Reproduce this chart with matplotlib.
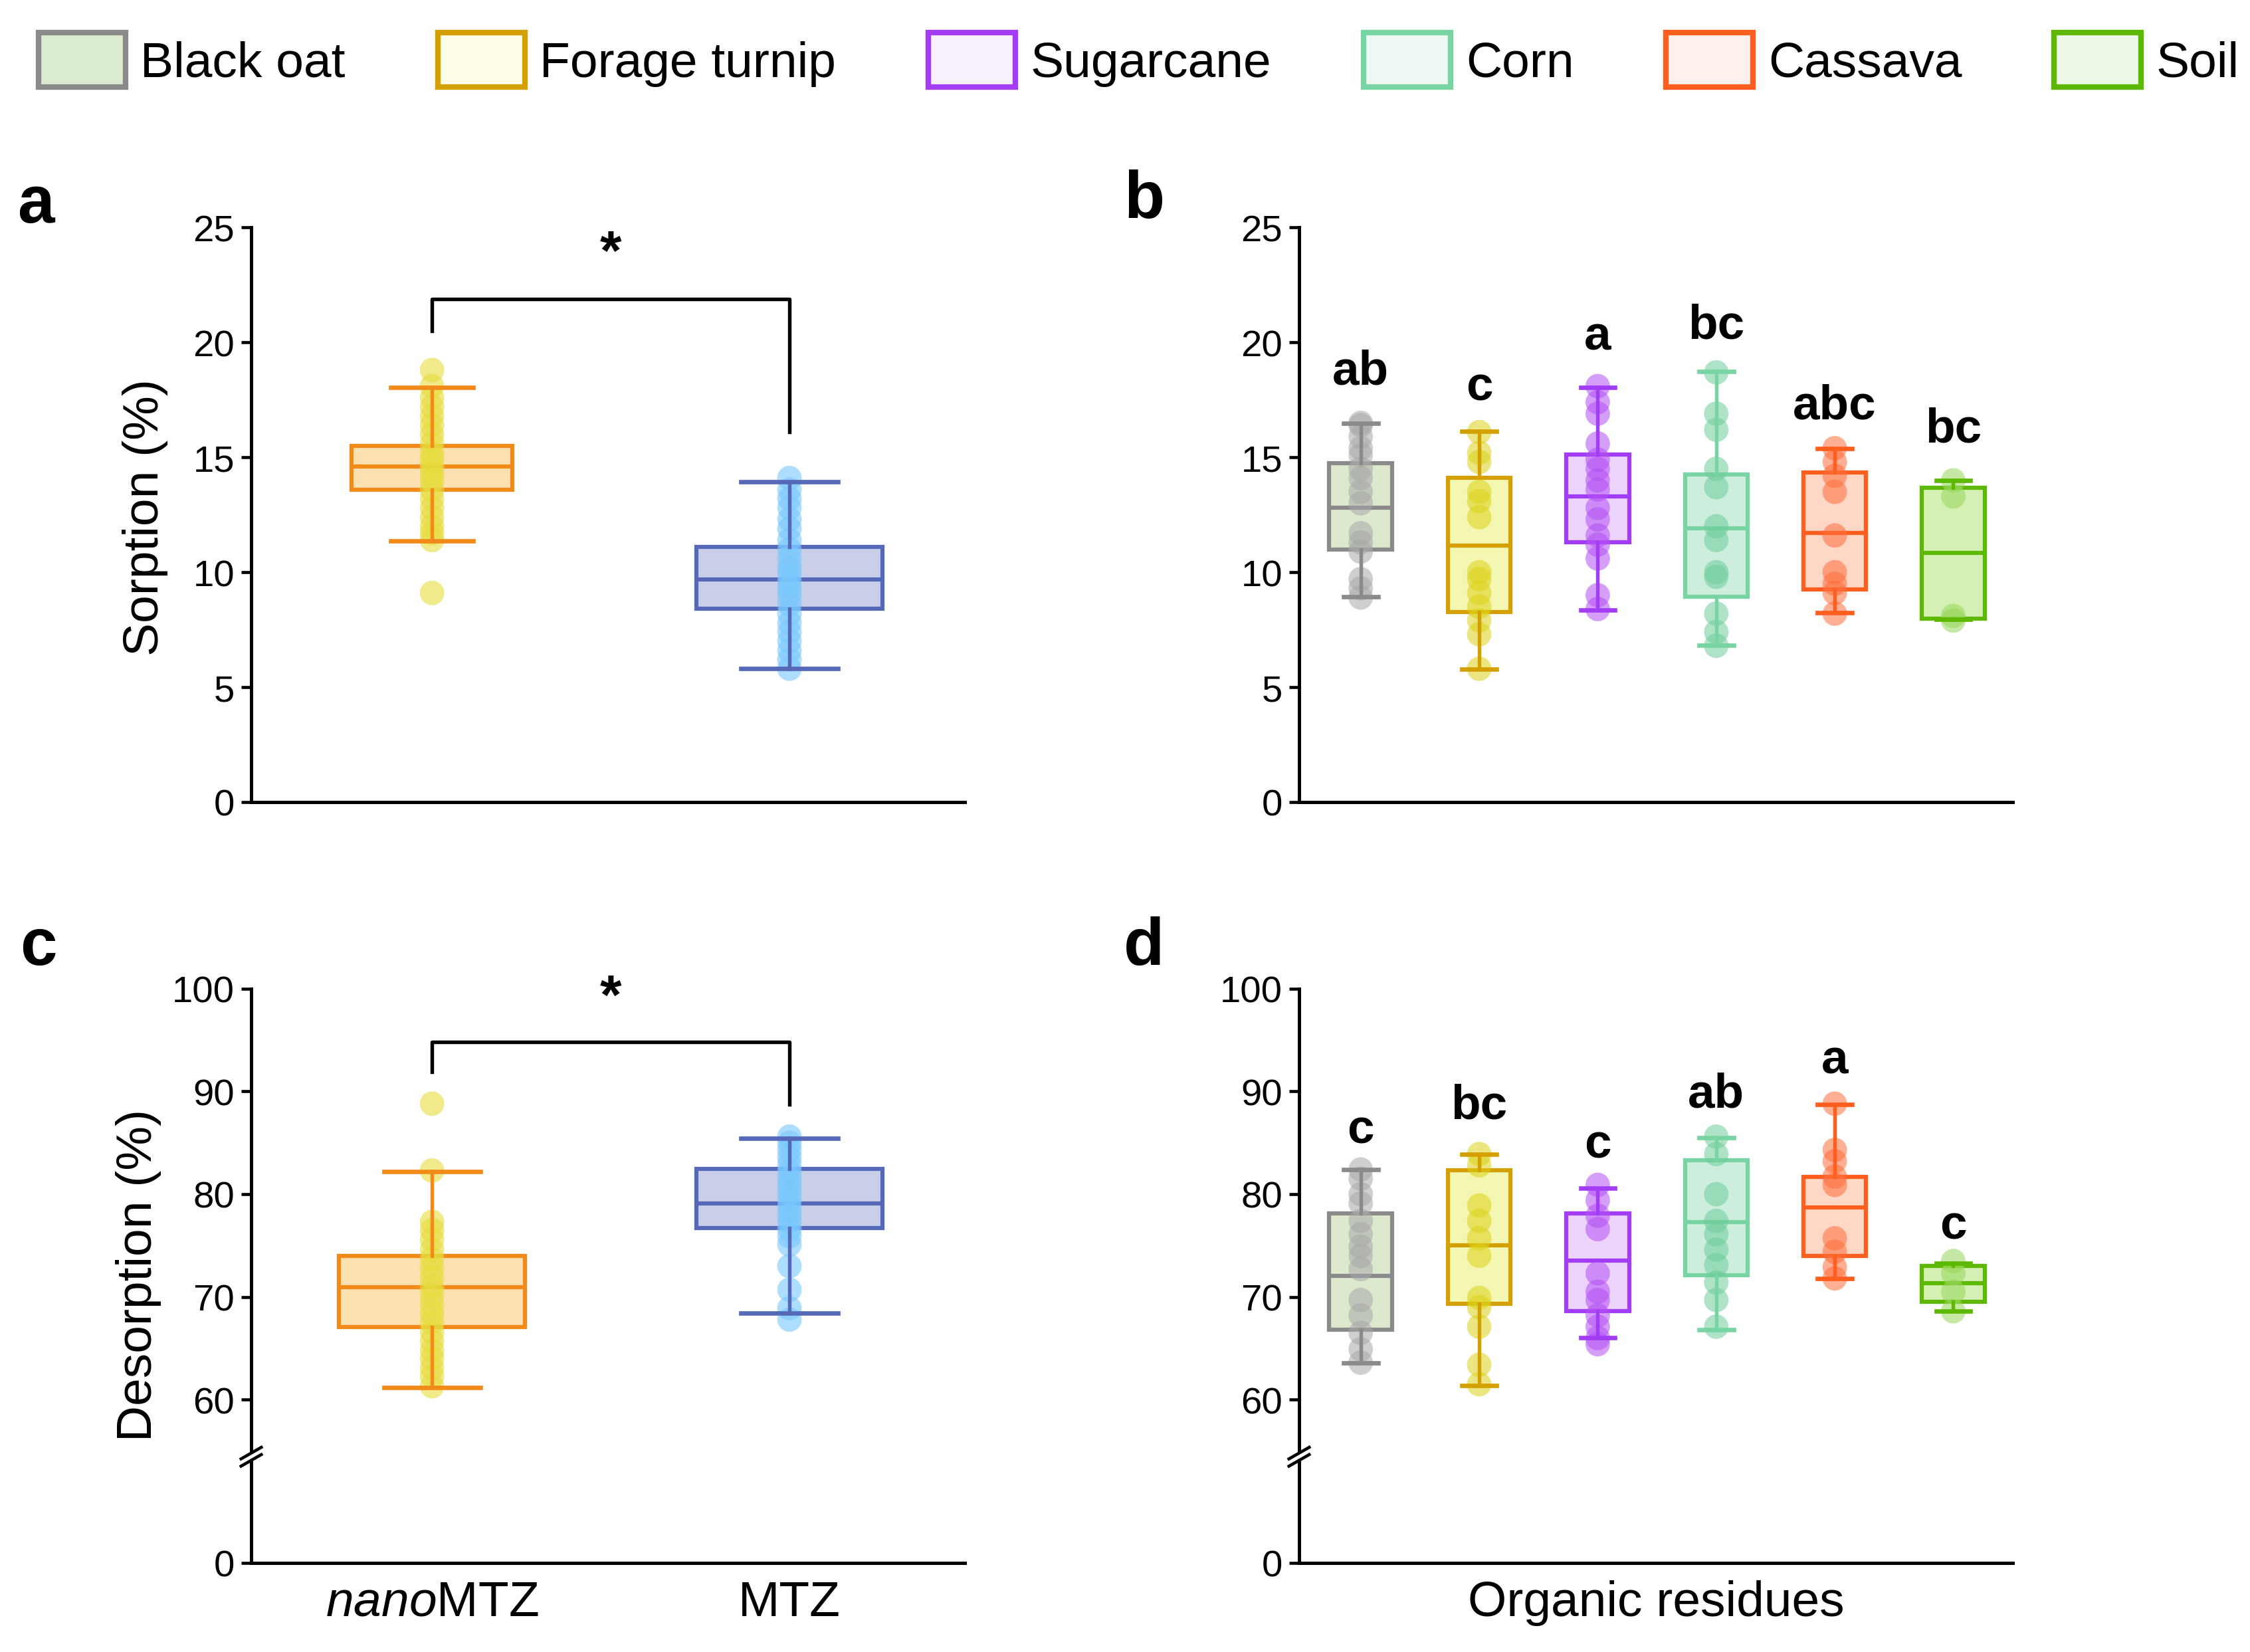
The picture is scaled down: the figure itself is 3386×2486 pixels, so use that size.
import numpy as np
import matplotlib
matplotlib.use('Agg')
import matplotlib.pyplot as plt
from matplotlib.patches import Patch
from matplotlib.lines import Line2D

plt.rcParams['font.family'] = 'Liberation Sans'
plt.rcParams['mathtext.fontset'] = 'custom'
plt.rcParams['mathtext.rm'] = 'Liberation Sans'
plt.rcParams['mathtext.it'] = 'Liberation Sans:italic'

# ---- data ----
residues = ['Black oat', 'Forage turnip', 'Sugarcane', 'Corn', 'Cassava', 'Soil']
forms = [r'$\mathit{nano}$MTZ', 'MTZ']

# sorption by form (panel a)
sorp_form_q1 = [13.6, 8.4]
sorp_form_med = [14.6, 9.7]
sorp_form_q3 = [15.5, 11.1]
sorp_form_lo = [11.35, 5.8]
sorp_form_hi = [18.05, 13.95]
sorp_nano_pts = [18.8, 18.1, 17.6, 17.2, 16.8, 16.4, 16.0, 15.6, 15.2, 14.9, 14.6,
                 14.3, 14.0, 13.6, 13.2, 12.8, 12.4, 12.0, 11.7, 11.4, 9.1]
sorp_mtz_pts = [14.1, 13.6, 13.2, 12.8, 12.3, 11.9, 11.4, 11.0, 10.6, 10.2, 9.9,
                9.6, 9.3, 9.0, 8.6, 8.2, 7.8, 7.4, 7.0, 6.6, 6.2, 5.8]

# sorption by residue (panel b)
sorp_res_q1 = [11.0, 8.27, 11.3, 8.93, 9.25, 7.98]
sorp_res_med = [12.82, 11.16, 13.3, 11.92, 11.71, 10.84]
sorp_res_q3 = [14.74, 14.1, 15.12, 14.25, 14.34, 13.68]
sorp_res_lo = [8.94, 5.79, 8.36, 6.82, 8.25, 7.95]
sorp_res_hi = [16.49, 16.13, 18.04, 18.74, 15.39, 14.0]
sorp_res_pts = [
    [16.5, 16.4, 15.9, 15.4, 15.1, 14.5, 14.1, 13.5, 13.0, 11.7, 11.3, 10.9, 9.7, 9.3, 8.9],
    [16.1, 15.2, 14.8, 13.5, 13.1, 12.4, 10.0, 9.7, 9.1, 8.5, 7.9, 7.3, 5.8],
    [18.1, 17.4, 16.9, 15.6, 14.9, 14.5, 14.0, 13.6, 12.8, 12.3, 11.6, 11.2, 10.6, 9.0, 8.4],
    [18.7, 16.9, 16.2, 14.5, 13.7, 12.0, 11.4, 10.0, 9.8, 8.2, 7.4, 6.8],
    [15.4, 14.8, 14.2, 13.5, 11.6, 10.0, 9.5, 9.1, 8.2],
    [14.0, 13.3, 8.1, 7.9],
]
sorp_res_letters = ['ab', 'c', 'a', 'bc', 'abc', 'bc']
sorp_res_letter_y = [18.2, 17.5, 19.7, 20.2, 16.7, 15.7]

# desorption by form (panel c)
des_form_q1 = [67.05, 76.7]
des_form_med = [70.95, 79.1]
des_form_q3 = [73.96, 82.47]
des_form_lo = [61.2, 68.4]
des_form_hi = [82.2, 85.4]
des_nano_pts = [88.8, 82.3, 77.3, 76.5, 75.6, 74.6, 73.7, 72.8, 71.9, 71.0, 70.2,
                69.3, 68.4, 67.5, 66.6, 65.7, 64.8, 64.0, 63.1, 62.3, 61.3]
des_mtz_pts = [85.6, 85.0, 84.3, 83.6, 82.9, 82.2, 81.5, 80.8, 80.1, 79.4, 78.7,
               78.0, 77.3, 76.6, 75.9, 75.1, 73.0, 70.7, 68.9, 67.8]

# desorption by residue (panel d)
des_res_q1 = [66.8, 69.3, 68.6, 72.1, 74.0, 69.5]
des_res_med = [72.05, 75.0, 73.55, 77.3, 78.7, 71.35]
des_res_q3 = [78.1, 82.3, 78.1, 83.3, 81.7, 73.0]
des_res_lo = [63.6, 61.4, 66.0, 66.8, 71.8, 68.6]
des_res_hi = [82.4, 83.9, 80.6, 85.5, 88.7, 73.3]
des_res_pts = [
    [82.4, 81.5, 80.0, 79.1, 77.4, 76.1, 74.9, 74.0, 72.7, 69.7, 68.2, 66.5, 64.9, 63.6],
    [83.9, 82.8, 78.9, 77.4, 75.7, 74.0, 69.9, 69.0, 67.1, 63.4, 61.5],
    [80.9, 79.4, 77.9, 76.6, 72.3, 70.5, 69.7, 68.2, 67.1, 66.0, 65.4],
    [85.6, 83.9, 80.0, 77.4, 76.1, 74.6, 73.1, 71.4, 69.7, 67.1],
    [88.8, 84.3, 83.2, 81.7, 80.9, 75.7, 74.4, 72.9, 71.8],
    [73.5, 72.3, 70.5, 68.6],
]
des_res_letters = ['c', 'bc', 'c', 'ab', 'a', 'c']
des_res_letter_y = [85.0, 87.4, 83.6, 88.5, 91.8, 75.7]

# significance brackets [left foot, top, right foot]
bracket_a = [20.5, 21.9, 16.1]
bracket_c = [91.9, 94.8, 88.7]

# ---- colours ----
res_edge = ['#8a8a8a', '#d4a000', '#a23cf5', '#78d4a2', '#ff5e1e', '#5cb800']
res_fill = ['#dde9cd', '#f4f7b2', '#ebd3fb', '#cdeedc', '#ffd7c7', '#d5f0b5']
res_dot = ['#a8a8a8', '#dcd21a', '#b450f5', '#6ecd9b', '#ff6e3c', '#96d75a']
res_legend_fill = ['#dbebcf', '#fdfde8', '#f7f0fd', '#eef8f2', '#fef0ec', '#eef8e6']
form_edge = ['#f28a1a', '#5668b8']
form_fill = ['#fbe1b0', '#c9cfe8']
form_dot = ['#e6dc3c', '#78c8ff']


def make_stats(q1, med, q3, lo, hi):
    return [dict(q1=a, med=b, q3=c, whislo=d, whishi=e, fliers=[])
            for a, b, c, d, e in zip(q1, med, q3, lo, hi)]


def draw_boxes(ax, stats, points, edge, fill, dot, widths, capw, alpha=0.55):
    for i, st in enumerate(stats):
        pos = i + 1
        art = ax.bxp([st], positions=[pos], widths=widths[i], capwidths=capw[i],
                     patch_artist=True, showfliers=False, manage_ticks=False,
                     boxprops=dict(facecolor=fill[i], edgecolor=edge[i], linewidth=1.5),
                     medianprops=dict(color=edge[i], linewidth=1.5),
                     whiskerprops=dict(color=edge[i], linewidth=1.3),
                     capprops=dict(color=edge[i], linewidth=1.6))
        for a in art['whiskers'] + art['caps']:
            a.set_zorder(4)
        ax.scatter(np.full(len(points[i]), pos), points[i], s=78, color=dot[i],
                   alpha=alpha, edgecolors='none', zorder=3)


def style_axis(ax):
    for s in ['top', 'right']:
        ax.spines[s].set_visible(False)
    for s in ['left', 'bottom']:
        ax.spines[s].set_linewidth(1.2)
    ax.tick_params(axis='y', direction='out', length=3.5, width=1.1, labelsize=13.5, pad=2.5)
    ax.tick_params(axis='x', length=0, labelsize=18, pad=6)


def add_break(fig, ax_top, ax_bot):
    x0 = ax_top.get_position().x0
    yc = (ax_top.get_position().y0 + ax_bot.get_position().y1) / 2
    dx, dy, off = 0.0045, 0.0035, 0.0022
    for o in (-off, off):
        fig.add_artist(Line2D([x0 - dx, x0 + dx], [yc - dy + o, yc + dy + o],
                              transform=fig.transFigure, color='black', lw=1.1))


fig = plt.figure(figsize=(11.29, 8.29), dpi=300)

ax_a = fig.add_axes([0.1116, 0.5143, 0.3170, 0.3476])
ax_b = fig.add_axes([0.5772, 0.5143, 0.3170, 0.3476])
ax_c = fig.add_axes([0.1116, 0.1216, 0.3170, 0.2798])
ax_c0 = fig.add_axes([0.1116, 0.0539, 0.3170, 0.0608])
ax_d = fig.add_axes([0.5772, 0.1216, 0.3170, 0.2798])
ax_d0 = fig.add_axes([0.5772, 0.0539, 0.3170, 0.0608])

# panel a
draw_boxes(ax_a, make_stats(sorp_form_q1, sorp_form_med, sorp_form_q3, sorp_form_lo, sorp_form_hi),
           [sorp_nano_pts, sorp_mtz_pts], form_edge, form_fill, form_dot,
           widths=[0.45, 0.52], capw=[0.23, 0.27], alpha=0.6)
ax_a.plot([1, 1, 2, 2], [bracket_a[0], bracket_a[1], bracket_a[1], bracket_a[2]], color='black', lw=1.3)
ax_a.text(1.5, 23.2, '*', ha='center', va='baseline', fontsize=20, fontweight='bold')
ax_a.set_xlim(0.494, 2.49)
ax_a.set_ylim(0, 25)
ax_a.set_yticks([0, 5, 10, 15, 20, 25])
ax_a.set_xticks([])
style_axis(ax_a)

# panel b
draw_boxes(ax_b, make_stats(sorp_res_q1, sorp_res_med, sorp_res_q3, sorp_res_lo, sorp_res_hi),
           sorp_res_pts, res_edge, res_fill, res_dot,
           widths=[0.53] * 6, capw=[0.29] * 6)
for i, (lab, y) in enumerate(zip(sorp_res_letters, sorp_res_letter_y)):
    ax_b.text(i + 1, y, lab, ha='center', va='baseline', fontsize=17.5, fontweight='bold')
ax_b.set_xlim(0.48, 6.5)
ax_b.set_ylim(0, 25)
ax_b.set_yticks([0, 5, 10, 15, 20, 25])
ax_b.set_xticks([])
style_axis(ax_b)

# panel c (broken axis)
draw_boxes(ax_c, make_stats(des_form_q1, des_form_med, des_form_q3, des_form_lo, des_form_hi),
           [des_nano_pts, des_mtz_pts], form_edge, form_fill, form_dot,
           widths=[0.52, 0.52], capw=[0.27, 0.27], alpha=0.6)
ax_c.plot([1, 1, 2, 2], [bracket_c[0], bracket_c[1], bracket_c[1], bracket_c[2]], color='black', lw=1.3)
ax_c.text(1.5, 97.6, '*', ha='center', va='baseline', fontsize=20, fontweight='bold')

# panel d (broken axis)
draw_boxes(ax_d, make_stats(des_res_q1, des_res_med, des_res_q3, des_res_lo, des_res_hi),
           des_res_pts, res_edge, res_fill, res_dot,
           widths=[0.53] * 6, capw=[0.29] * 6)
for i, (lab, y) in enumerate(zip(des_res_letters, des_res_letter_y)):
    ax_d.text(i + 1, y, lab, ha='center', va='baseline', fontsize=17.5, fontweight='bold')

for top, bot, xl in [(ax_c, ax_c0, (0.494, 2.49)), (ax_d, ax_d0, (0.48, 6.5))]:
    top.set_xlim(*xl)
    bot.set_xlim(*xl)
    top.set_ylim(55, 100)
    top.set_yticks([60, 70, 80, 90, 100])
    top.set_xticks([])
    style_axis(top)
    top.spines['bottom'].set_visible(False)
    bot.set_ylim(0, 9.79)
    bot.set_yticks([0])
    style_axis(bot)
    bot.patch.set_alpha(0)
    add_break(fig, top, bot)

ax_c0.set_xticks([1, 2])
ax_c0.set_xticklabels(forms)
ax_d0.set_xticks([])
ax_d0.set_xlabel('Organic residues', fontsize=18, labelpad=6)

fig.text(0.0645, 0.687, 'Sorption (%)', rotation=90, ha='center', va='center', fontsize=18)
fig.text(0.0615, 0.2285, 'Desorption (%)', rotation=90, ha='center', va='center', fontsize=18)

for lab, x, y in [('a', 0.0159, 0.8758), ('b', 0.5083, 0.8784), ('c', 0.0172, 0.4266), ('d', 0.5083, 0.4266)]:
    fig.text(x, y, lab, ha='center', va='center', fontsize=24, fontweight='bold')

handles = [Patch(facecolor=res_legend_fill[i], edgecolor=res_edge[i], linewidth=2) for i in range(6)]
fig.legend(handles, residues, loc='center', bbox_to_anchor=(0.506, 0.9635), ncol=6,
           frameon=False, fontsize=18, handlelength=1.75, handleheight=1.3,
           columnspacing=1.85, handletextpad=0.3, borderpad=0)

fig.savefig('out.png', dpi=300)
